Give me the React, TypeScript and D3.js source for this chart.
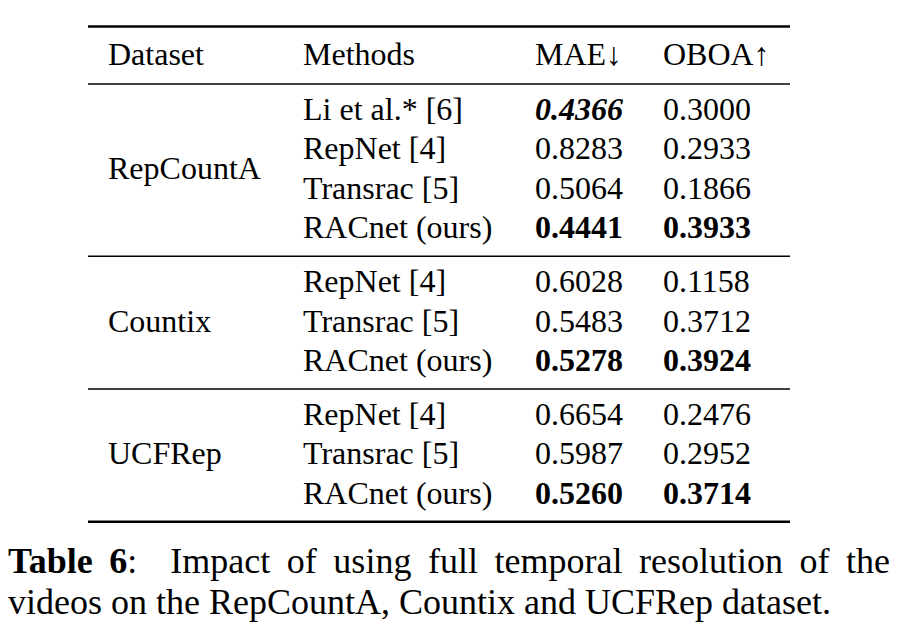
import React, { useEffect, useRef } from "react";
import * as d3 from "d3";

const headers = ["Dataset", "Methods", "MAE\u2193", "OBOA\u2191"];
const datasets = ["RepCountA", "Countix", "UCFRep"];
const groupOfRow = [0, 0, 0, 0, 1, 1, 1, 2, 2, 2];
const methods = [
  "Li et al.* [6]", "RepNet [4]", "Transrac [5]", "RACnet (ours)",
  "RepNet [4]", "Transrac [5]", "RACnet (ours)",
  "RepNet [4]", "Transrac [5]", "RACnet (ours)",
];
const maeValues = ["0.4366", "0.8283", "0.5064", "0.4441", "0.6028", "0.5483", "0.5278", "0.6654", "0.5987", "0.5260"];
const oboaValues = ["0.3000", "0.2933", "0.1866", "0.3933", "0.1158", "0.3712", "0.3924", "0.2476", "0.2952", "0.3714"];
// style flags: 0 normal, 1 bold, 2 bold italic
const maeStyle = [2, 0, 0, 1, 0, 0, 1, 0, 0, 1];
const oboaStyle = [0, 0, 0, 1, 0, 0, 1, 0, 0, 1];
const captionBold = "Table 6";
const captionLine1 = ":  Impact of using full temporal resolution of the";
const captionLine2 = "videos on the RepCountA, Countix and UCFRep dataset.";

const W = 905;
const H = 640;
const FONT = "'Liberation Serif', 'Times New Roman', serif";

export default function App() {
  const ref = useRef<SVGSVGElement | null>(null);

  useEffect(() => {
    const svg = d3.select(ref.current);
    svg.selectAll("*").remove();

    const tableLeft = 88;
    const tableRight = 790;
    const colX = d3.scaleOrdinal<number, number>().domain([0, 1, 2, 3]).range([108, 303, 535, 663]);
    const fs = 32;

    const headerBase = 65;
    const firstRow = 120;
    const step = 39.4;
    const groupExtra = 14.6;
    const yRow = (i: number) => firstRow + i * step + groupOfRow[i] * groupExtra;

    const g = svg.append("g").attr("font-family", FONT).attr("fill", "#000");

    const rule = (y: number, w: number) =>
      g.append("line").attr("x1", tableLeft).attr("x2", tableRight).attr("y1", y).attr("y2", y)
        .attr("stroke", "#000").attr("stroke-width", w);
    rule(26.5, 2.4);
    rule(84, 1.5);

    headers.forEach((h, j) => {
      g.append("text").attr("x", colX(j)).attr("y", headerBase).attr("font-size", fs).text(h);
    });

    methods.forEach((m, i) => {
      const y = yRow(i);
      g.append("text").attr("x", colX(1)).attr("y", y).attr("font-size", fs).text(m);
      const st = (t: d3.Selection<SVGTextElement, unknown, null, undefined>, s: number) => {
        if (s >= 1) t.attr("font-weight", "bold");
        if (s === 2) t.attr("font-style", "italic");
      };
      st(g.append("text").attr("x", colX(2)).attr("y", y).attr("font-size", fs).text(maeValues[i]), maeStyle[i]);
      st(g.append("text").attr("x", colX(3)).attr("y", y).attr("font-size", fs).text(oboaValues[i]), oboaStyle[i]);
    });

    datasets.forEach((d, k) => {
      const idx = groupOfRow.map((gi, i) => (gi === k ? i : -1)).filter((i) => i >= 0);
      const yMid = (yRow(idx[0]) + yRow(idx[idx.length - 1])) / 2;
      g.append("text").attr("x", colX(0)).attr("y", yMid).attr("font-size", fs).text(d);
      const last = yRow(idx[idx.length - 1]);
      rule(last + 18, k === datasets.length - 1 ? 2.4 : 1.5);
    });

    // caption (first line justified)
    const cfs = 36;
    const capLeft = 8;
    const capRight = 890;
    const t1 = g.append("text").attr("x", capLeft).attr("y", 573).attr("font-size", cfs)
      .attr("xml:space", "preserve").style("white-space", "pre");
    t1.append("tspan").attr("font-weight", "bold").text(captionBold);
    t1.append("tspan").text(captionLine1);
    const natural = (t1.node() as SVGTextElement).getComputedTextLength();
    const nSpaces = ((captionBold + captionLine1).match(/ /g) || []).length;
    const extra = (capRight - capLeft - natural) / nSpaces;
    t1.attr("word-spacing", extra);

    g.append("text").attr("x", capLeft).attr("y", 614).attr("font-size", cfs).text(captionLine2);
  }, []);

  return (
    <svg
      ref={ref}
      width={W}
      height={H}
      style={{ position: "absolute", left: 0, top: 0, background: "#fff" }}
    />
  );
}
